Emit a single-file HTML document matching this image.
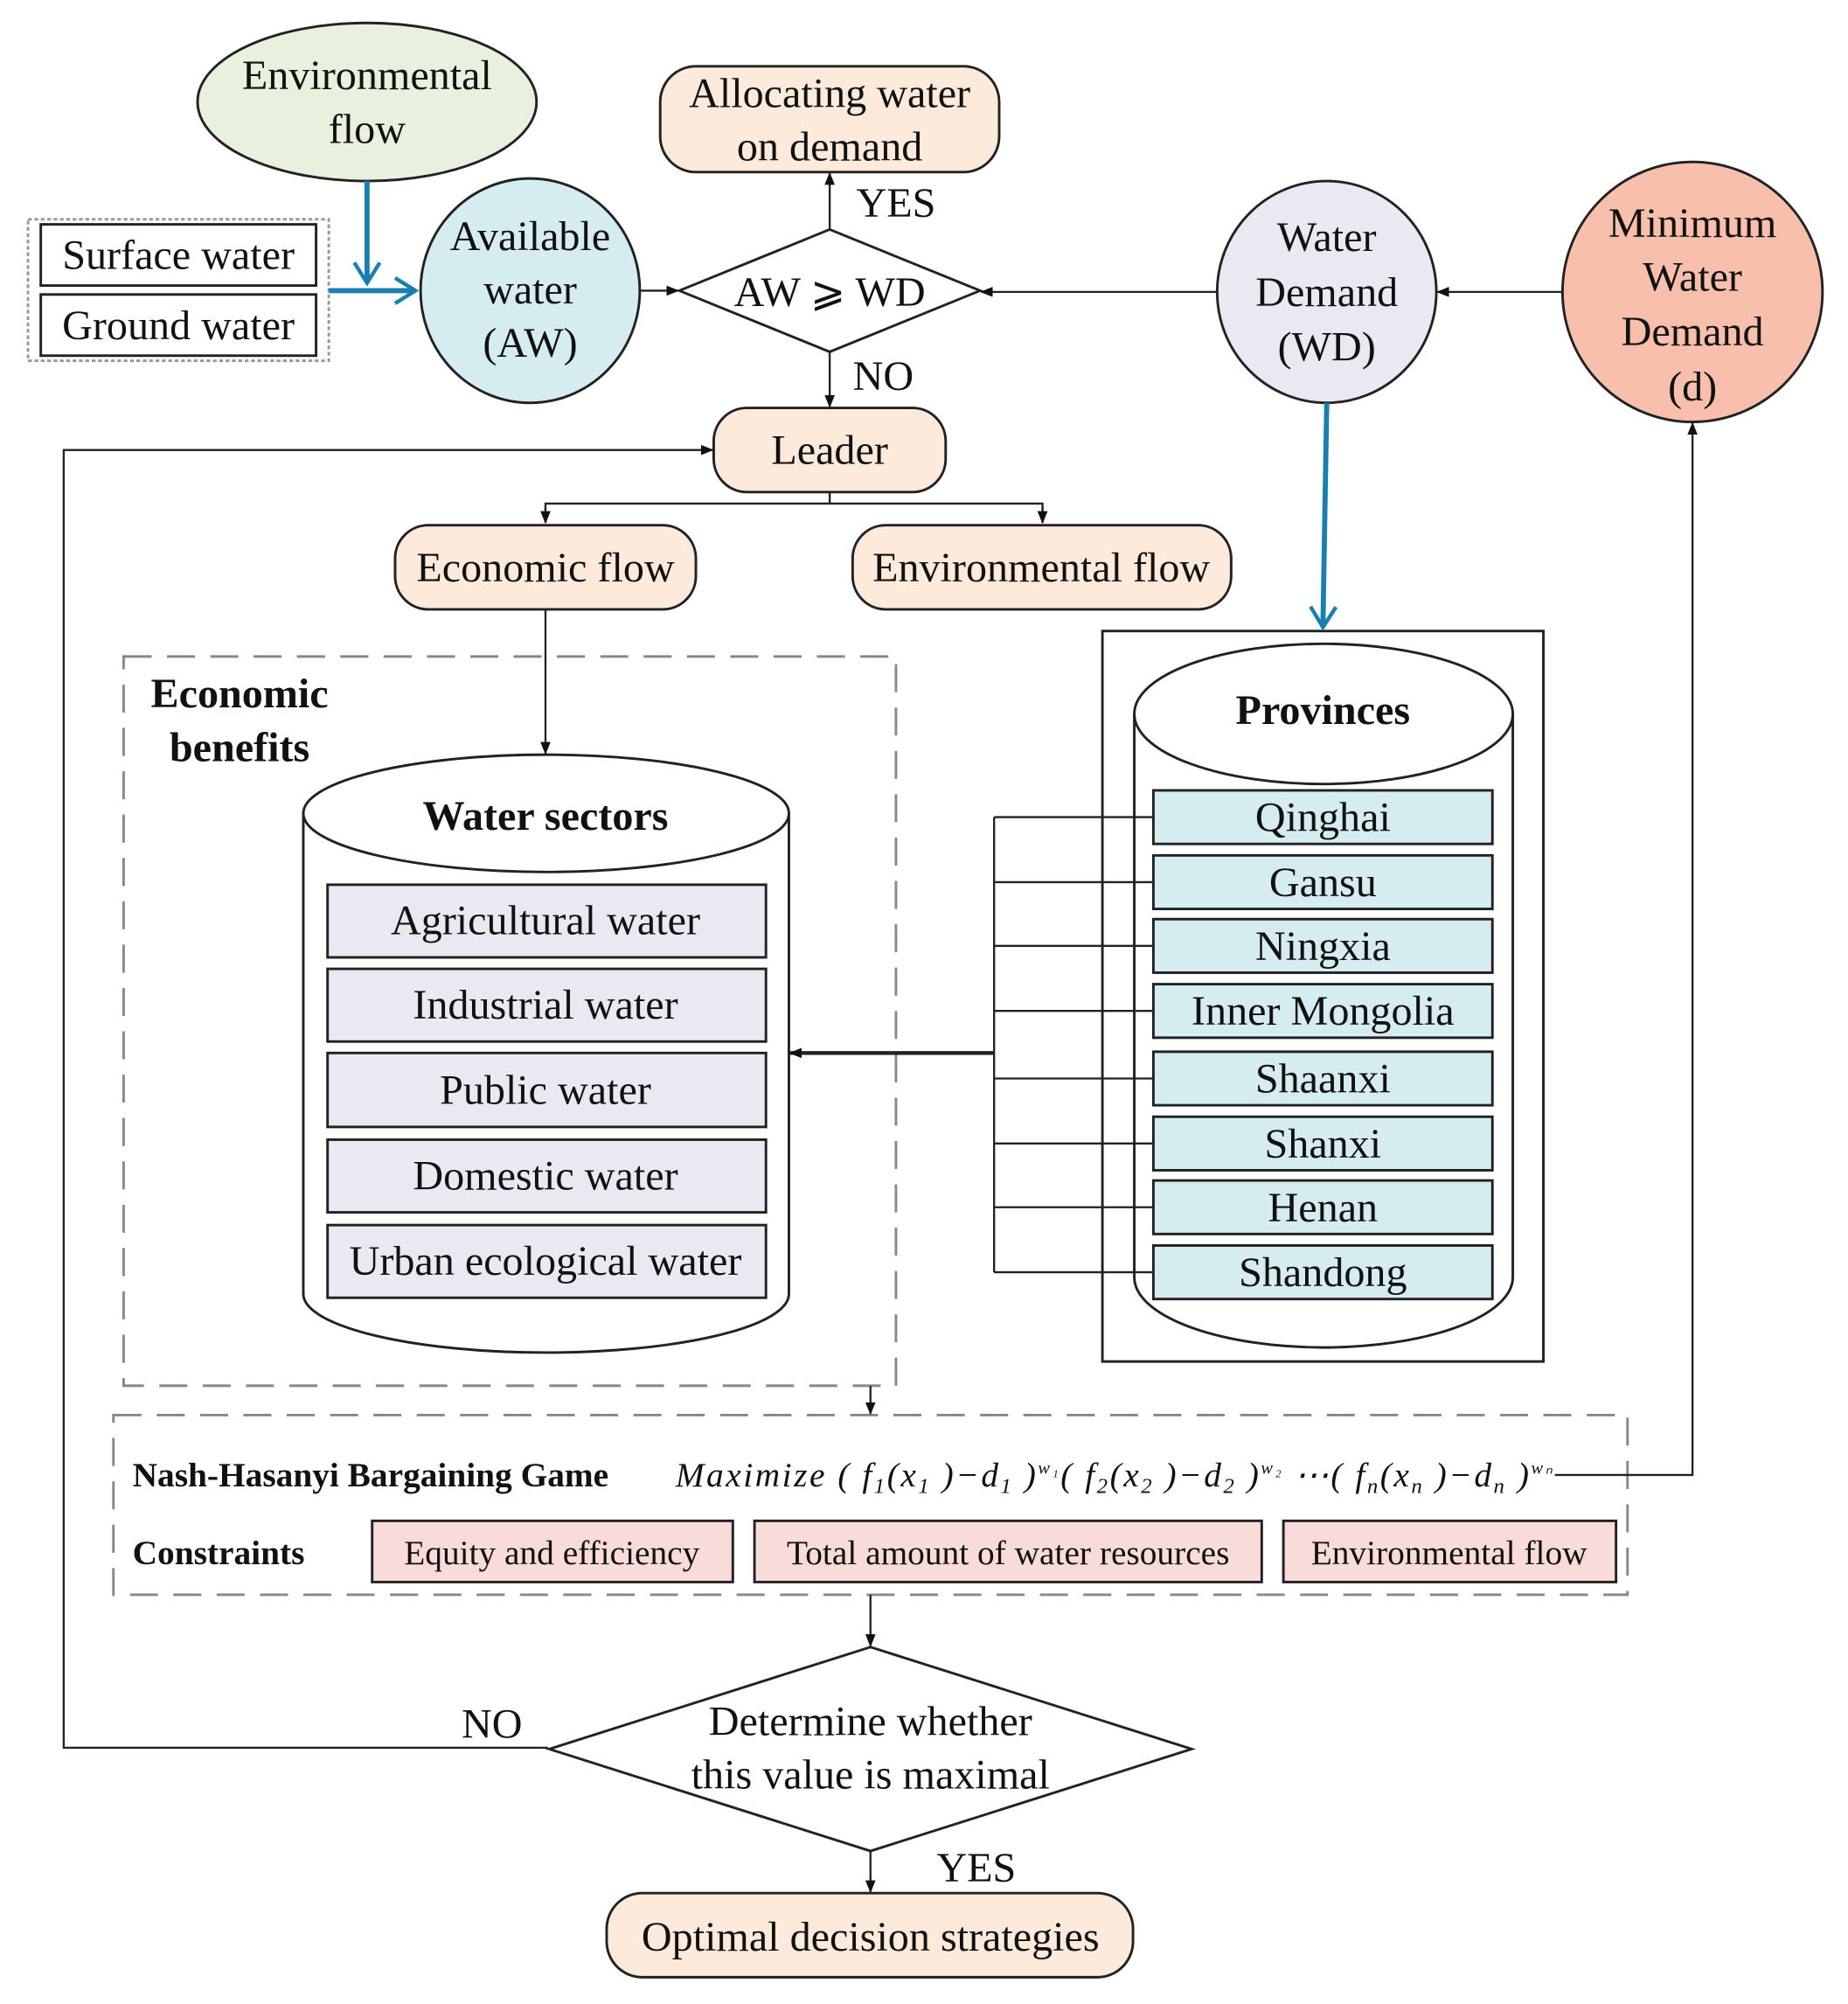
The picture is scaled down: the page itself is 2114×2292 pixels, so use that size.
<!DOCTYPE html>
<html><head><meta charset="utf-8"><style>html,body{margin:0;padding:0;background:#fff}svg{display:block}text{font-family:"Liberation Serif",serif;fill:#111}</style></head><body>
<svg width="2114" height="2292" viewBox="0 0 1450 1572" preserveAspectRatio="none" xmlns="http://www.w3.org/2000/svg">
<defs>
<marker id="a" markerWidth="10" markerHeight="10" refX="9" refY="5" orient="auto" markerUnits="userSpaceOnUse"><path d="M0,1 L10,5 L0,9 Z" fill="#111"/></marker>
<marker id="b" markerWidth="24" markerHeight="24" refX="20" refY="12" orient="auto" markerUnits="userSpaceOnUse"><path d="M4,2 L20,12 L4,22" fill="none" stroke="#1a7fb0" stroke-width="3"/></marker>
</defs>
<g stroke="#222" stroke-width="2">
<ellipse cx="288" cy="80" rx="133" ry="62" fill="#e8f0de"/>
<rect x="22" y="172" width="236" height="111" fill="none" stroke="#999" stroke-dasharray="3,2"/>
<rect x="32" y="176" width="216" height="48" fill="#fff"/>
<rect x="32" y="231" width="216" height="48" fill="#fff"/>
<ellipse cx="416" cy="228" rx="86" ry="88" fill="#d5ecf1"/>
<polygon points="533,228 651,180 769,228 651,276" fill="#fff"/>
<rect x="518" y="52" width="266" height="83" rx="28" fill="#fdeadb"/>
<ellipse cx="1041" cy="229" rx="86" ry="87" fill="#ece8f2"/>
<ellipse cx="1328" cy="229" rx="102" ry="102" fill="#f9bfad"/>
<rect x="560" y="320" width="182" height="66" rx="26" fill="#fdeadb"/>
<rect x="310" y="412" width="236" height="66" rx="26" fill="#fdeadb"/>
<rect x="669" y="412" width="297" height="66" rx="26" fill="#fdeadb"/>
<rect x="97" y="515" width="606" height="572" fill="none" stroke="#888" stroke-dasharray="22,12"/>
<path d="M238,638 V1015 A190.5,46 0 0 0 619,1015 V638" fill="#fff"/>
<ellipse cx="428.5" cy="638" rx="190.5" ry="46" fill="#fff"/>
<rect x="865" y="495" width="346" height="573" fill="none"/>
<path d="M890,560 V1002 A148.5,55 0 0 0 1187,1002 V560" fill="#fff"/>
<ellipse cx="1038.5" cy="560" rx="148.5" ry="55" fill="#fff"/>
<rect x="89" y="1110" width="1188" height="141" fill="none" stroke="#888" stroke-dasharray="22,12"/>
<polygon points="431,1372 683,1292 935,1372 683,1452" fill="#fff"/>
<rect x="476" y="1485" width="413" height="66" rx="28" fill="#fdeadb"/>
</g>
<g stroke="#222" stroke-width="2" fill="#ece8f2">
<rect x="257" y="694" width="344" height="57"/><rect x="257" y="760" width="344" height="57"/><rect x="257" y="826" width="344" height="58"/><rect x="257" y="894" width="344" height="57"/><rect x="257" y="961" width="344" height="57"/>
</g>
<g stroke="#222" stroke-width="2" fill="#d5ecf1">
<rect x="905" y="620" width="266" height="42"/><rect x="905" y="671" width="266" height="42"/><rect x="905" y="721" width="266" height="42"/><rect x="905" y="772" width="266" height="42"/><rect x="905" y="825" width="266" height="42"/><rect x="905" y="876" width="266" height="42"/><rect x="905" y="926" width="266" height="42"/><rect x="905" y="977" width="266" height="42"/>
</g>
<g stroke="#222" stroke-width="2" fill="#f9dcd9">
<rect x="292" y="1193" width="283" height="48"/><rect x="592" y="1193" width="398" height="48"/><rect x="1007" y="1193" width="261" height="48"/>
</g>
<g stroke="#1a7fb0" stroke-width="4" fill="none">
<line x1="288" y1="142" x2="288" y2="222" marker-end="url(#b)"/>
<line x1="258" y1="228" x2="326" y2="228" marker-end="url(#b)"/>
<line x1="1041" y1="316" x2="1038" y2="492" marker-end="url(#b)"/>
</g>
<g stroke="#222" stroke-width="1.6" fill="none">
<line x1="651" y1="180" x2="651" y2="136" marker-end="url(#a)"/>
<line x1="651" y1="276" x2="651" y2="319" marker-end="url(#a)"/>
<line x1="502" y1="228" x2="532" y2="228" marker-end="url(#a)"/>
<line x1="1226" y1="229" x2="1128" y2="229" marker-end="url(#a)"/>
<line x1="955" y1="229" x2="770" y2="229" marker-end="url(#a)"/>
<polyline points="430,1371 50,1371 50,353 559,353" marker-end="url(#a)"/>
<line x1="651" y1="386" x2="651" y2="395"/>
<polyline points="428,410 428,395 818,395 818,410"/>
<line x1="428" y1="398" x2="428" y2="410" marker-end="url(#a)"/>
<line x1="818" y1="398" x2="818" y2="410" marker-end="url(#a)"/>
<line x1="428" y1="478" x2="428" y2="591" marker-end="url(#a)"/>
<line x1="780" y1="641" x2="780" y2="998"/>
<path d="M780,641H905M780,692H905M780,742H905M780,793H905M780,846H905M780,897H905M780,947H905M780,998H905"/>
<line x1="780" y1="826" x2="620" y2="826" stroke-width="3" marker-end="url(#a)"/>
<line x1="683" y1="1087" x2="683" y2="1109" marker-end="url(#a)"/>
<polyline points="1220,1157 1328,1157 1328,332" marker-end="url(#a)"/>
<line x1="683" y1="1251" x2="683" y2="1291" marker-end="url(#a)"/>
<line x1="683" y1="1452" x2="683" y2="1484" marker-end="url(#a)"/>
</g>
<rect x="362" y="1338" width="50" height="30" fill="#fff"/>
<g font-size="33" text-anchor="middle">
<text x="288" y="70">Environmental</text><text x="288" y="112">flow</text>
<text x="140" y="211">Surface water</text><text x="140" y="266">Ground water</text>
<text x="416" y="196">Available</text><text x="416" y="238">water</text><text x="416" y="280">(AW)</text>
<text x="651" y="240">AW ⩾ WD</text>
<text x="651" y="84">Allocating water</text><text x="651" y="126">on demand</text>
<text x="703" y="170">YES</text><text x="693" y="306">NO</text>
<text x="1041" y="197">Water</text><text x="1041" y="240">Demand</text><text x="1041" y="283">(WD)</text>
<text x="1328" y="186">Minimum</text><text x="1328" y="228">Water</text><text x="1328" y="271">Demand</text><text x="1328" y="314">(d)</text>
<text x="651" y="364">Leader</text>
<text x="428" y="456">Economic flow</text><text x="817" y="456">Environmental flow</text>
<text x="428" y="733">Agricultural water</text><text x="428" y="799">Industrial water</text><text x="428" y="866">Public water</text><text x="428" y="933">Domestic water</text><text x="428" y="1000">Urban ecological water</text>
<text x="1038" y="652">Qinghai</text><text x="1038" y="703">Gansu</text><text x="1038" y="753">Ningxia</text><text x="1038" y="804">Inner Mongolia</text><text x="1038" y="857">Shaanxi</text><text x="1038" y="908">Shanxi</text><text x="1038" y="958">Henan</text><text x="1038" y="1009">Shandong</text>
<text x="683" y="1361">Determine whether</text><text x="683" y="1403">this value is maximal</text>
<text x="386" y="1363">NO</text><text x="766" y="1476">YES</text>
<text x="683" y="1530">Optimal decision strategies</text>
</g>
<g font-size="33" font-weight="bold" text-anchor="middle">
<text x="188" y="555">Economic</text><text x="188" y="597">benefits</text>
<text x="428" y="651">Water sectors</text><text x="1038" y="568">Provinces</text>
</g>
<g font-size="27">
<text x="104" y="1166" font-weight="bold">Nash-Hasanyi Bargaining Game</text>
<text x="530" y="1166" font-style="italic" textLength="688" lengthAdjust="spacing">Maximize ( f<tspan font-size="17" dy="5">1</tspan><tspan dy="-5">(x</tspan><tspan font-size="17" dy="5">1</tspan><tspan dy="-5"> )−d</tspan><tspan font-size="17" dy="5">1</tspan><tspan dy="-5"> )</tspan><tspan font-size="14" dy="-10">w₁</tspan><tspan dy="10">( f</tspan><tspan font-size="17" dy="5">2</tspan><tspan dy="-5">(x</tspan><tspan font-size="17" dy="5">2</tspan><tspan dy="-5"> )−d</tspan><tspan font-size="17" dy="5">2</tspan><tspan dy="-5"> )</tspan><tspan font-size="14" dy="-10">w₂</tspan><tspan dy="10"> ⋯( f</tspan><tspan font-size="17" dy="5">n</tspan><tspan dy="-5">(x</tspan><tspan font-size="17" dy="5">n</tspan><tspan dy="-5"> )−d</tspan><tspan font-size="17" dy="5">n</tspan><tspan dy="-5"> )</tspan><tspan font-size="14" dy="-10">wₙ</tspan></text>
<text x="104" y="1227" font-weight="bold">Constraints</text>
</g>
<g font-size="27" text-anchor="middle">
<text x="433" y="1227">Equity and efficiency</text><text x="791" y="1227">Total amount of water resources</text><text x="1137" y="1227">Environmental flow</text>
</g>
</svg>
</body></html>
